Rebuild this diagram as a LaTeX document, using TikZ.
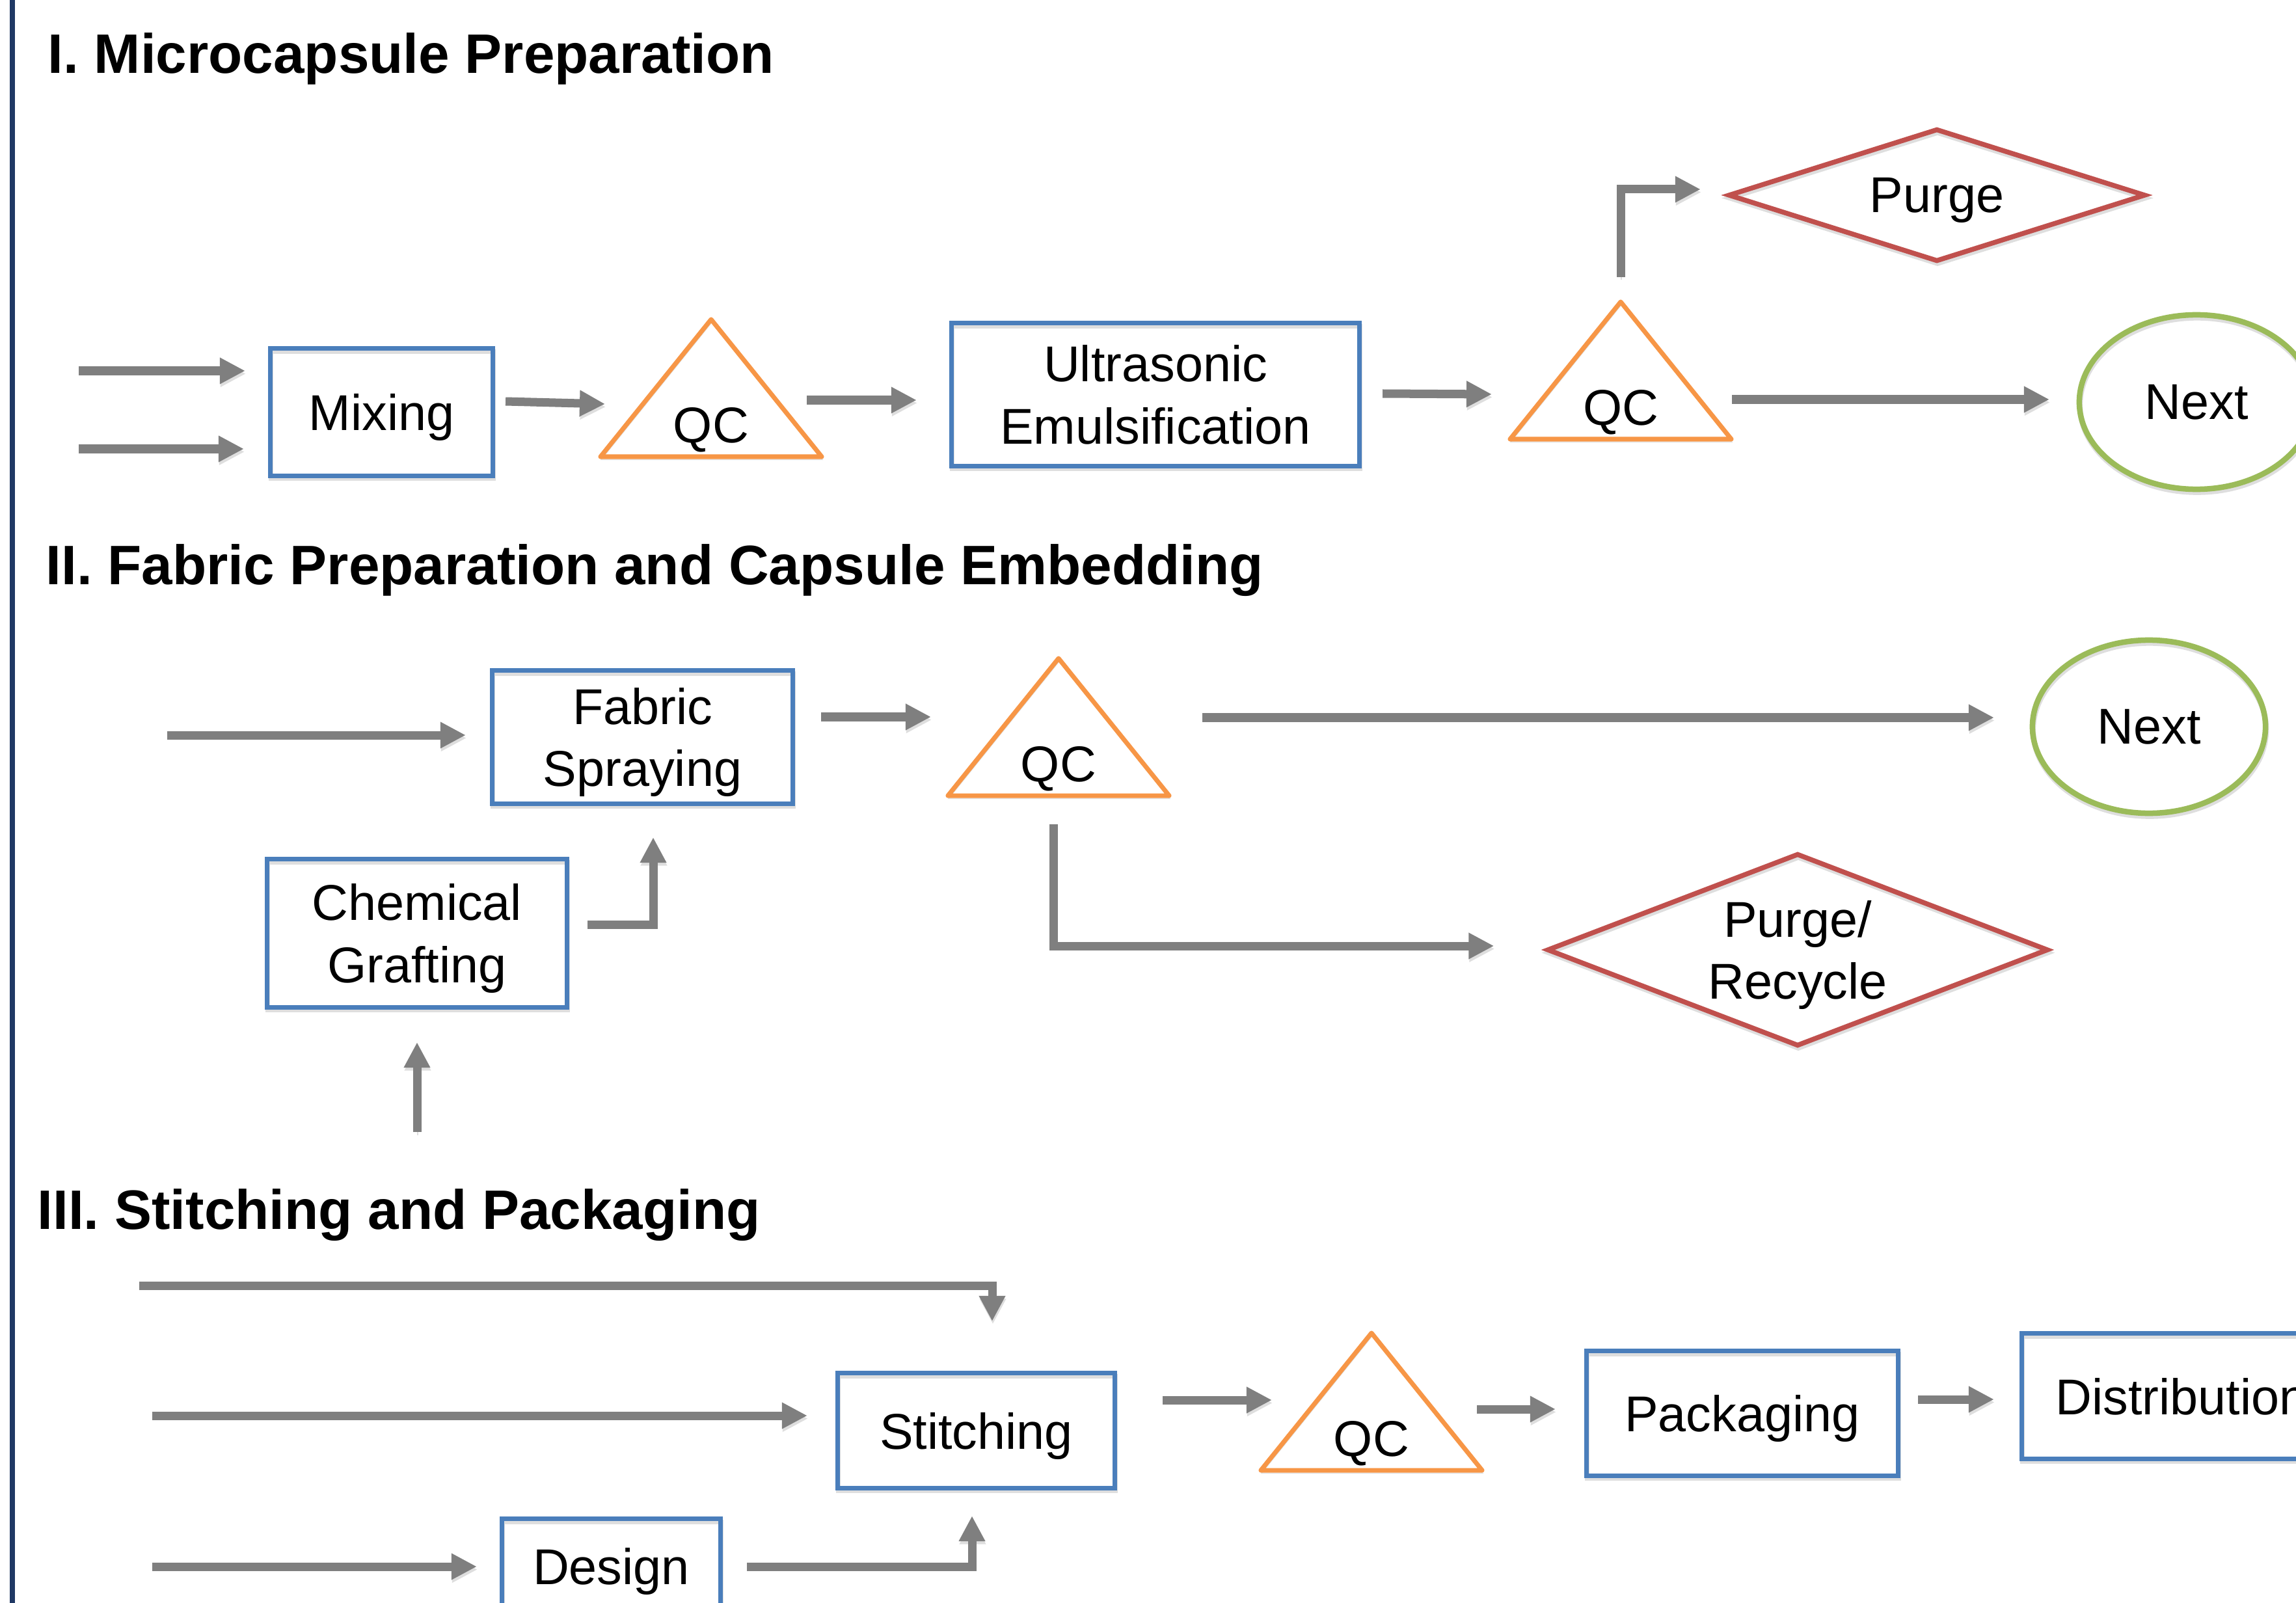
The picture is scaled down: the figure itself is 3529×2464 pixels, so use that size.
\documentclass[tikz,border=0pt]{standalone}
\usepackage{fontspec}
\setmainfont{Liberation Sans}
\usetikzlibrary{shapes.geometric, arrows.meta, calc}
\definecolor{boxblue}{RGB}{74,126,187}
\definecolor{qcorange}{RGB}{247,150,70}
\definecolor{dred}{RGB}{192,80,77}
\definecolor{egreen}{RGB}{155,187,89}
\definecolor{arrgray}{RGB}{127,127,127}
\definecolor{navy}{RGB}{31,56,100}
\definecolor{shadowgray}{RGB}{222,222,222}
\newcommand{\nodefont}{\fontsize{22}{27.2}\selectfont}
\newcommand{\titlefont}{\fontsize{24.3}{29}\selectfont\bfseries}
\begin{document}
\begin{tikzpicture}[x=0.01cm, y=-0.01cm,
  softshadow/.style={preaction={draw=shadowgray, transform canvas={xshift=0.01cm, yshift=-0.045cm}}},
  procbox/.style={rectangle, draw=boxblue, line width=0.07cm, inner sep=0pt, outer sep=0pt,
    align=center, text depth=0pt, font=\nodefont, softshadow},
  purgedia/.style={diamond, draw=dred, line width=0.075cm, inner sep=0pt, outer sep=0pt,
    align=center, text depth=0pt, font=\nodefont, softshadow},
  nextell/.style={ellipse, draw=egreen, line width=0.085cm, inner sep=0pt, outer sep=0pt,
    text depth=0pt, font=\nodefont, softshadow},
  qclabel/.style={inner sep=0pt, outer sep=0pt, text depth=0pt, font=\nodefont},
  tri/.style={draw=qcorange, line width=0.07cm, line join=round, softshadow},
  sectitle/.style={anchor=base west, inner sep=0pt, font=\titlefont},
  arr/.style={draw=arrgray, line width=0.13cm, -{Triangle[length=0.39cm,width=0.38cm]}, softshadow},
  qctri/.pic={\draw[tri] (0,-162) -- (170,49) -- (-170,49) -- cycle;}
]
\useasboundingbox (0,0) rectangle (3529,2464);
\clip (0,0) rectangle (3529,2464);
\fill[white] (0,0) rectangle (3529,2464);

% left rule
\draw[navy, line width=0.08cm] (19,0) -- (19,2464);

% ---------- Section I ----------
\node[sectitle] (t1) at (73,113) {I. Microcapsule Preparation};

\node[procbox, minimum width=3.41cm, minimum height=1.95cm] (mix) at (586.5,633.5) {Mixing};
\node[qclabel] (qc1) at (1093,653) {QC};
\pic at (qc1.center) {qctri};
\node[procbox, minimum width=6.26cm, minimum height=2.19cm] (ultra) at (1776,606.5) {Ultrasonic\\Emulsification};
\node[qclabel] (qc2) at (2491,626) {QC};
\pic at (qc2.center) {qctri};
\node[purgedia, aspect=3.17, minimum width=6.38cm, minimum height=2.01cm] (purge) at (2977,300) {Purge};
\node[nextell, minimum width=3.6cm, minimum height=2.68cm] (next1) at (3376,618) {Next};

\coordinate (i1) at (121,570);
\coordinate (i2) at (121,690);
\draw[arr] (i1) -- ([shift={(-39,-63.5)}]mix.west);
\draw[arr] (i2) -- ([shift={(-41,56.5)}]mix.west);
\draw[arr] ([shift={(20,-16.5)}]mix.east) -- ([shift={(-163,-32)}]qc1.center);
\draw[arr] ([shift={(147,-38)}]qc1.center) -- ([shift={(-54,8.5)}]ultra.west);
\draw[arr] ([shift={(36,-1.5)}]ultra.east) -- ([shift={(-198,-20)}]qc2.center);
\draw[arr] ([shift={(0,-200)}]qc2.center) |- ([shift={(-44,-9)}]purge.west);
\draw[arr] ([shift={(171,-12)}]qc2.center) -- ([shift={(-46,-4)}]next1.west);

% ---------- Section II ----------
\node[sectitle] (t2) at (70,898) {II. Fabric Preparation and Capsule Embedding};

\node[procbox, minimum width=4.61cm, minimum height=2.04cm] (fab) at (987.5,1133) {Fabric\\Spraying};
\node[qclabel] (qc3) at (1627,1174) {QC};
\pic at (qc3.center) {qctri};
\node[nextell, minimum width=3.58cm, minimum height=2.66cm] (next2) at (3303,1117) {Next};
\node[purgedia, aspect=2.62, minimum width=7.67cm, minimum height=2.93cm] (purgerec) at (2763,1460) {Purge/\\Recycle};
\node[procbox, minimum width=4.6cm, minimum height=2.27cm] (chem) at (641,1434.5) {Chemical\\Grafting};

\coordinate (i3) at (257,1130);
\coordinate (i4) at (641,1740);
\draw[arr] (i3) -- ([shift={(-41,-3)}]fab.west);
\draw[arr] ([shift={(44,-31)}]fab.east) -- ([shift={(-196,-72)}]qc3.center);
\draw[arr] ([shift={(221,-71)}]qc3.center) -- ([shift={(-59,-14)}]next2.west);
\draw[arr] ([shift={(-8,93)}]qc3.center) |- ([shift={(-83,-6)}]purgerec.west);
\draw[arr] ([shift={(32,-13.5)}]chem.east) -| ([shift={(16.5,52)}]fab.south);
\draw[arr] (i4) -- ([shift={(0,54)}]chem.south);

% ---------- Section III ----------
\node[sectitle] (t3) at (57,1889) {III. Stitching and Packaging};

\node[procbox, minimum width=4.25cm, minimum height=1.76cm] (stitch) at (1500.5,2199) {Stitching};
\node[procbox, minimum width=3.35cm, minimum height=1.44cm] (design) at (939.5,2407) {Design};
\node[qclabel] (qc4) at (2108,2211) {QC};
\pic at (qc4.center) {qctri};
\node[procbox, minimum width=4.78cm, minimum height=1.91cm] (pack) at (2678,2172.5) {Packaging};
\node[procbox, minimum width=4.9cm, minimum height=1.92cm] (dist) at (3353,2146) {Distribution};

\coordinate (i5) at (214,1976);
\coordinate (i6) at (234,2176);
\coordinate (i7) at (234,2408);
\draw[arr] (i5) -| ([shift={(24.5,-80)}]stitch.north);
\draw[arr] (i6) -- ([shift={(-47,-23)}]stitch.west);
\draw[arr] (i7) -- ([shift={(-39,1)}]design.west);
\draw[arr] ([shift={(41,1)}]design.east) -| ([shift={(-6.5,43)}]stitch.south);
\draw[arr] ([shift={(74,-47)}]stitch.east) -- ([shift={(-153,-59)}]qc4.center);
\draw[arr] ([shift={(162,-45)}]qc4.center) -- ([shift={(-48,-6.5)}]pack.west);
\draw[arr] ([shift={(31,-21.5)}]pack.east) -- ([shift={(-43,5)}]dist.west);
\end{tikzpicture}
\end{document}
